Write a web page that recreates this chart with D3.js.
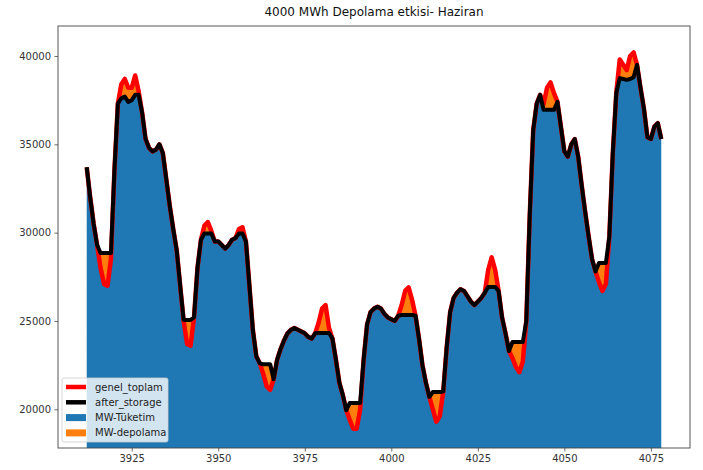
<!DOCTYPE html>
<html><head><meta charset="utf-8">
<script src="https://cdn.jsdelivr.net/npm/d3@7"></script>
<style>
body{margin:0;background:#fff;}
text{font-family:"DejaVu Sans",sans-serif;}
</style></head>
<body><svg id="c" width="703" height="470"></svg>
<script>
const title = "4000 MWh Depolama etkisi- Haziran";
const startHour = 3912;
const genelToplam = [
33700,32000,30500,29300,28000,27100,27000,28500,33500,37300,
38400,38700,38200,38200,38900,38000,36800,35300,34800,34600,
34700,35000,34500,33000,31500,30200,29000,27000,25000,23700,
23600,25200,28000,29600,30400,30600,30100,29500,29500,29300,
29100,29300,29600,29700,30200,30300,29500,27000,24500,23000,
22600,22000,21300,21100,21700,22800,23400,23900,24300,24500,
24600,24500,24400,24300,24100,24000,24300,24900,25700,25900,
24600,24000,22800,21500,20800,19950,19400,18900,18900,20000,
22800,24800,25500,25700,25800,25700,25400,25200,25100,25000,
25300,25900,26700,26900,26200,25300,24000,22500,21500,20700,
20000,19300,19600,21000,23500,25500,26300,26600,26800,26700,
26400,26100,25900,26100,26300,26600,27900,28600,27900,26700,
25200,24300,23300,22900,22400,22100,22700,25000,31000,35800,
37300,37800,37300,38200,38500,37900,37400,36000,34600,34300,
35000,35300,34300,32700,31200,29800,28500,27800,27200,26700,
27100,29800,34500,37900,39800,39500,39200,40000,40200,39500,
38200,37000,35400,35300,36000,36200,35300
];
const afterStorage = [
33700,32000,30500,29300,28850,28850,28850,28850,33500,37300,
37600,37700,37400,37500,37800,37800,36800,35300,34800,34600,
34700,35000,34500,33000,31500,30200,29000,27000,25060,25060,
25060,25200,28000,29600,29950,29950,29950,29500,29500,29300,
29100,29300,29600,29700,29950,29950,29500,27000,24500,23000,
22600,22550,22550,22550,21700,22800,23400,23900,24300,24500,
24600,24500,24400,24300,24100,24000,24300,24320,24320,24320,
24320,24000,22800,21500,20800,19950,20360,20360,20360,20360,
22800,24800,25500,25700,25800,25700,25400,25200,25100,25000,
25300,25340,25340,25340,25340,25300,24000,22500,21500,20700,
20980,20980,20980,21000,23500,25500,26300,26600,26800,26700,
26400,26100,25900,26100,26300,26600,26930,26930,26930,26700,
25200,24300,23300,23810,23810,23810,23810,25000,31000,35800,
37300,37800,36950,36950,36950,36950,37400,36000,34600,34300,
35000,35300,34300,32700,31200,29800,28500,27800,28280,28280,
28280,29800,34500,37900,38750,38700,38650,38700,38800,39500,
38200,37000,35400,35300,36000,36200,35300
];
const xTicks = [3925,3950,3975,4000,4025,4050,4075];
const yTicks = [20000,25000,30000,35000,40000];
const legendLabels = ["genel_toplam","after_storage","MW-Tüketim","MW-depolama"];

const hours = genelToplam.map((_, i) => startHour + i);
const data = hours.map((h, i) => ({h, g: genelToplam[i], a: afterStorage[i]}));

const L = 58, R = 690, T = 26, B = 448;
const svg = d3.select("#c");
const x = d3.scaleLinear().domain([3903.7, 4086.3]).range([L, R]);
const y = d3.scaleLinear().domain([17809, 41698]).range([B, T]);

svg.append("clipPath").attr("id","clip").append("rect")
  .attr("x", L).attr("y", T).attr("width", R - L).attr("height", B - T);
const g = svg.append("g").attr("clip-path","url(#clip)");

g.append("path").datum(data)
  .attr("fill","#1f77b4")
  .attr("d", d3.area().x(d => x(d.h)).y0(B).y1(d => y(d.a)));
g.append("path").datum(data)
  .attr("fill","#ff7f0e")
  .attr("d", d3.area().x(d => x(d.h)).y0(d => y(d.a)).y1(d => y(d.g)));
g.append("path").datum(data)
  .attr("fill","none").attr("stroke","#ff0000").attr("stroke-width",4.5)
  .attr("stroke-linejoin","round").attr("stroke-linecap","butt")
  .attr("d", d3.line().x(d => x(d.h)).y(d => y(d.g)));
g.append("path").datum(data)
  .attr("fill","none").attr("stroke","#000").attr("stroke-width",4)
  .attr("stroke-linejoin","round").attr("stroke-linecap","butt")
  .attr("d", d3.line().x(d => x(d.h)).y(d => y(d.a)));

// axes
const xa = svg.append("g").attr("transform",`translate(0,${B})`)
  .call(d3.axisBottom(x).tickValues(xTicks).tickSize(3.5).tickPadding(3.5).tickFormat(d3.format("d")));
const ya = svg.append("g").attr("transform",`translate(${L},0)`)
  .call(d3.axisLeft(y).tickValues(yTicks).tickSize(3.5).tickPadding(3.5).tickFormat(d3.format("d")));
[xa, ya].forEach(a => {
  a.select(".domain").remove();
  a.selectAll("line").attr("stroke","#444").attr("stroke-width",0.8);
  a.selectAll("text").attr("fill","#333").style("font-size","10px").style("font-family","DejaVu Sans, sans-serif");
});
svg.append("rect").attr("x", L).attr("y", T).attr("width", R - L).attr("height", B - T)
  .attr("fill","none").attr("stroke","#444").attr("stroke-width",0.9);

svg.append("text").attr("x", (L + R) / 2).attr("y", 16).attr("text-anchor","middle")
  .attr("fill","#111").style("font-size","12px").text(title);

// legend
const lg = svg.append("g").attr("transform","translate(62,378)");
lg.append("rect").attr("width",106).attr("height",64).attr("rx",2)
  .attr("fill","#fff").attr("fill-opacity",0.8).attr("stroke","#ccc").attr("stroke-width",0.8);
const items = [
  {t:"line", c:"#ff0000"}, {t:"line", c:"#000"}, {t:"patch", c:"#1f77b4"}, {t:"patch", c:"#ff7f0e"}
];
items.forEach((it, i) => {
  const cy = 9 + i * 15.3;
  if (it.t === "line") {
    lg.append("line").attr("x1",4).attr("x2",24).attr("y1",cy).attr("y2",cy)
      .attr("stroke",it.c).attr("stroke-width",4.5);
  } else {
    lg.append("rect").attr("x",4).attr("y",cy - 3.5).attr("width",20).attr("height",7).attr("fill",it.c);
  }
  lg.append("text").attr("x",33).attr("y",cy).attr("dy","0.35em")
    .attr("fill","#222").style("font-size","10px").text(legendLabels[i]);
});
</script></body></html>
